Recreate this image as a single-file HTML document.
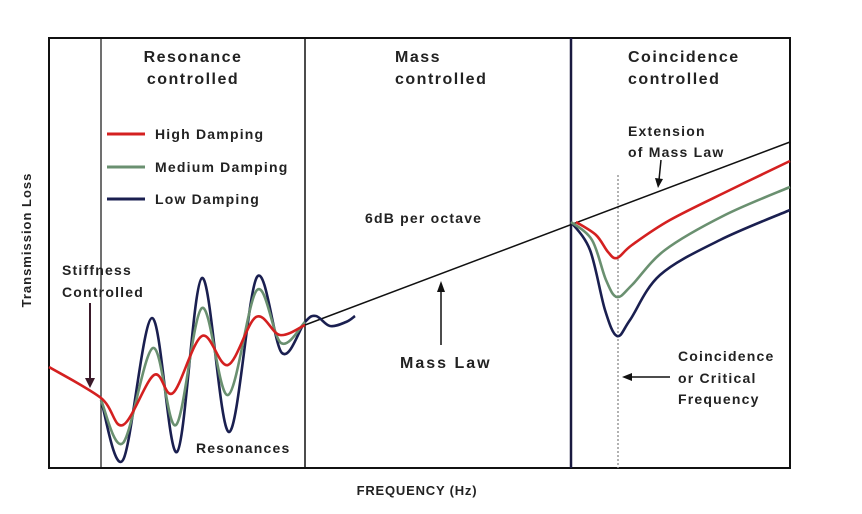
<!DOCTYPE html>
<html><head><meta charset="utf-8"><style>
html,body{margin:0;padding:0;background:#fff;width:862px;height:514px;overflow:hidden}
svg text{font-family:"Liberation Sans",Arial,sans-serif;font-weight:bold;fill:#222}
.s{font-size:14px;letter-spacing:1.2px}
.t{font-size:16px;letter-spacing:1.5px}
</style></head><body>
<svg id="s" width="862" height="514" viewBox="0 0 862 514" xmlns="http://www.w3.org/2000/svg">
<rect x="49" y="38" width="741" height="430" fill="none" stroke="#111" stroke-width="2"/>
<line x1="101" y1="38" x2="101" y2="468" stroke="#111" stroke-width="1.2"/>
<line x1="305" y1="38" x2="305" y2="468" stroke="#111" stroke-width="1.5"/>
<line x1="571" y1="38" x2="571" y2="468" stroke="#1a1a40" stroke-width="2.5"/>
<line x1="618" y1="175" x2="618" y2="468" stroke="#999" stroke-width="1.5" stroke-dasharray="2,2"/>
<line x1="305" y1="325" x2="790" y2="142" stroke="#111" stroke-width="1.5"/>
<g id="curves" fill="none" stroke-width="2.6"></g>
<text x="193" y="62" class="t" text-anchor="middle">Resonance</text>
<text x="193" y="84" class="t" text-anchor="middle">controlled</text>
<text x="395" y="62" class="t">Mass</text>
<text x="395" y="84" class="t">controlled</text>
<text x="628" y="62" class="t">Coincidence</text>
<text x="628" y="84" class="t">controlled</text>
<line x1="107" y1="134" x2="145" y2="134" stroke="#d42020" stroke-width="3"/>
<line x1="107" y1="167" x2="145" y2="167" stroke="#6a9070" stroke-width="3"/>
<line x1="107" y1="199" x2="145" y2="199" stroke="#1a1f50" stroke-width="3"/>
<text x="155" y="139" class="s">High Damping</text>
<text x="155" y="172" class="s">Medium Damping</text>
<text x="155" y="204" class="s">Low Damping</text>
<text x="62" y="275" class="s">Stiffness</text>
<text x="62" y="297" class="s">Controlled</text>
<line x1="90" y1="303" x2="90" y2="380" stroke="#3a1a2a" stroke-width="2"/>
<polygon points="85,378 95,378 90,388" fill="#3a1a2a"/>
<text x="196" y="453" class="s">Resonances</text>
<text x="365" y="223" class="s">6dB per octave</text>
<text x="400" y="368" style="font-size:16px;letter-spacing:2px">Mass Law</text>
<line x1="441" y1="345" x2="441" y2="290" stroke="#111" stroke-width="1.5"/>
<polygon points="437,292 445,292 441,281" fill="#111"/>
<text x="628" y="136" class="s">Extension</text>
<text x="628" y="157" class="s">of Mass Law</text>
<line x1="661" y1="160" x2="659" y2="180" stroke="#111" stroke-width="1.5"/>
<polygon points="655,178 663,179 658,188" fill="#111"/>
<text x="678" y="361" class="s">Coincidence</text>
<text x="678" y="383" class="s">or Critical</text>
<text x="678" y="404" class="s">Frequency</text>
<line x1="670" y1="377" x2="630" y2="377" stroke="#111" stroke-width="1.5"/>
<polygon points="632,373 632,381 622,377" fill="#111"/>
<text x="417" y="495" text-anchor="middle" style="font-size:13px;letter-spacing:0.8px">FREQUENCY (Hz)</text>
<text transform="translate(31,240) rotate(-90)" text-anchor="middle" style="font-size:13px;letter-spacing:1px">Transmission Loss</text>
</svg>
<script>
function cr(p){var d="M"+p[0][0]+","+p[0][1];for(var i=0;i<p.length-1;i++){var a=p[i-1]||p[i],b=p[i],c=p[i+1],e=p[i+2]||c;
d+=" C"+(b[0]+(c[0]-a[0])/6)+","+(b[1]+(c[1]-a[1])/6)+" "+(c[0]-(e[0]-b[0])/6)+","+(c[1]-(e[1]-b[1])/6)+" "+c[0]+","+c[1];}return d;}
var S=[
["#1a1f50",[[101,400],[123,460],[152,318],[177,452],[202,278],[229,432],[257,277],[282,353],[305,322],[316,316],[330,326],[346,322],[355,316]]],
["#1a1f50",[[571,222],[590,250],[605,310],[617,336],[630,320],[660,275],[720,240],[790,210]]],
["#6a9070",[[101,400],[123,443],[153,348],[176,425],[202,308],[228,395],[257,290],[281,343],[305,322]]],
["#6a9070",[[571,222],[592,240],[606,280],[617,297],[632,285],[665,250],[725,215],[790,187]]],
["#d42020",[[49,367],[101,398],[123,425],[154,375],[173,393],[202,336],[228,365],[256,317],[280,335],[305,325]]],
["#d42020",[[576,222],[596,235],[608,252],[617,258],[632,245],[670,220],[730,190],[790,161]]]];
var g=document.getElementById("curves"),h="";
S.forEach(function(s){h+='<path d="'+cr(s[1])+'" stroke="'+s[0]+'"/>';});g.innerHTML=h;
</script>
</body></html>
